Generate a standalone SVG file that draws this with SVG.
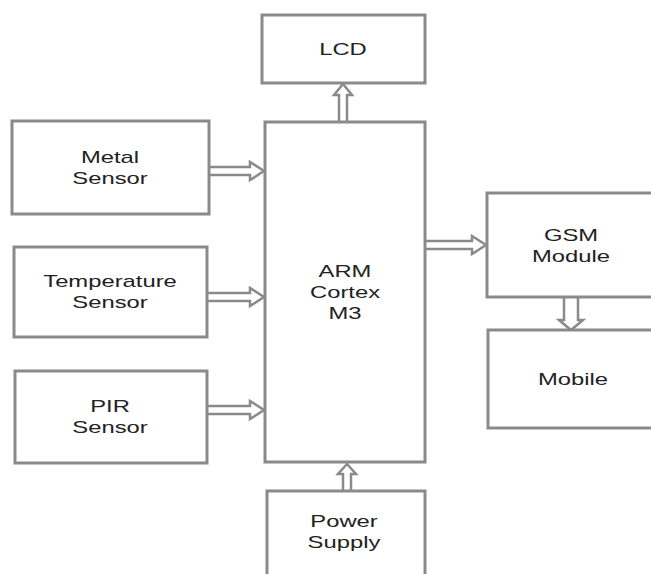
<svg xmlns="http://www.w3.org/2000/svg" width="651" height="574" viewBox="0 0 651 574">
<style>
.box{fill:#fff;stroke:#8a8a8a;stroke-width:3}
.arr{fill:#fff;stroke:#8a8a8a;stroke-width:2.5;stroke-linejoin:miter}
.t{font-family:"Liberation Sans",Arial,sans-serif;font-size:17px;fill:#222;text-anchor:middle}
</style>
<rect width="651" height="574" fill="#fff"/>
<g id="connectors">
<path class="arr" d="M209,167 L250,167 L250,162 L264,171 L250,180 L250,175 L209,175"/>
<path class="arr" d="M207,293 L250,293 L250,288 L264,297 L250,306 L250,301 L207,301"/>
<path class="arr" d="M207,406 L250,406 L250,401 L264,410 L250,419 L250,414 L207,414"/>
<path class="arr" d="M425,241 L472,241 L472,236 L486,245 L472,254 L472,249 L425,249"/>
<path class="arr" d="M339,122 L339,95 L334,95 L343,84 L352,95 L347,95 L347,122"/>
<path class="arr" d="M343,491 L343,474 L338,474 L347,464 L356,474 L351,474 L351,491"/>
<path class="arr" d="M564,297 L564,320 L559,320 L571,330 L583,320 L578,320 L578,297"/>
</g>
<g id="lcd"><rect class="box" x="262" y="15" width="163" height="68"/>
<text class="t" transform="translate(343 0) scale(1.4 1)" x="0" y="55">LCD</text></g>
<g id="arm"><rect class="box" x="265" y="122" width="160" height="340"/>
<text class="t" transform="translate(345 0) scale(1.4 1)" x="0" y="277">ARM</text>
<text class="t" transform="translate(345 0) scale(1.4 1)" x="0" y="298">Cortex</text>
<text class="t" transform="translate(345 0) scale(1.4 1)" x="0" y="319">M3</text></g>
<g id="metal"><rect class="box" x="12" y="121" width="197" height="93"/>
<text class="t" transform="translate(110 0) scale(1.4 1)" x="0" y="163">Metal</text>
<text class="t" transform="translate(110 0) scale(1.4 1)" x="0" y="184">Sensor</text></g>
<g id="temperature"><rect class="box" x="14" y="247" width="193" height="90"/>
<text class="t" transform="translate(110 0) scale(1.4 1)" x="0" y="287">Temperature</text>
<text class="t" transform="translate(110 0) scale(1.4 1)" x="0" y="308">Sensor</text></g>
<g id="pir"><rect class="box" x="15" y="371" width="192" height="92"/>
<text class="t" transform="translate(110 0) scale(1.4 1)" x="0" y="412">PIR</text>
<text class="t" transform="translate(110 0) scale(1.4 1)" x="0" y="433">Sensor</text></g>
<g id="gsm"><rect class="box" x="487" y="193" width="175" height="104"/>
<text class="t" transform="translate(571 0) scale(1.4 1)" x="0" y="241">GSM</text>
<text class="t" transform="translate(571 0) scale(1.4 1)" x="0" y="262">Module</text></g>
<g id="mobile"><rect class="box" x="488" y="330" width="175" height="98"/>
<text class="t" transform="translate(573 0) scale(1.4 1)" x="0" y="385">Mobile</text></g>
<g id="power"><rect class="box" x="267" y="491" width="158" height="95"/>
<text class="t" transform="translate(344 0) scale(1.4 1)" x="0" y="527">Power</text>
<text class="t" transform="translate(344 0) scale(1.4 1)" x="0" y="548">Supply</text></g>
</svg>
